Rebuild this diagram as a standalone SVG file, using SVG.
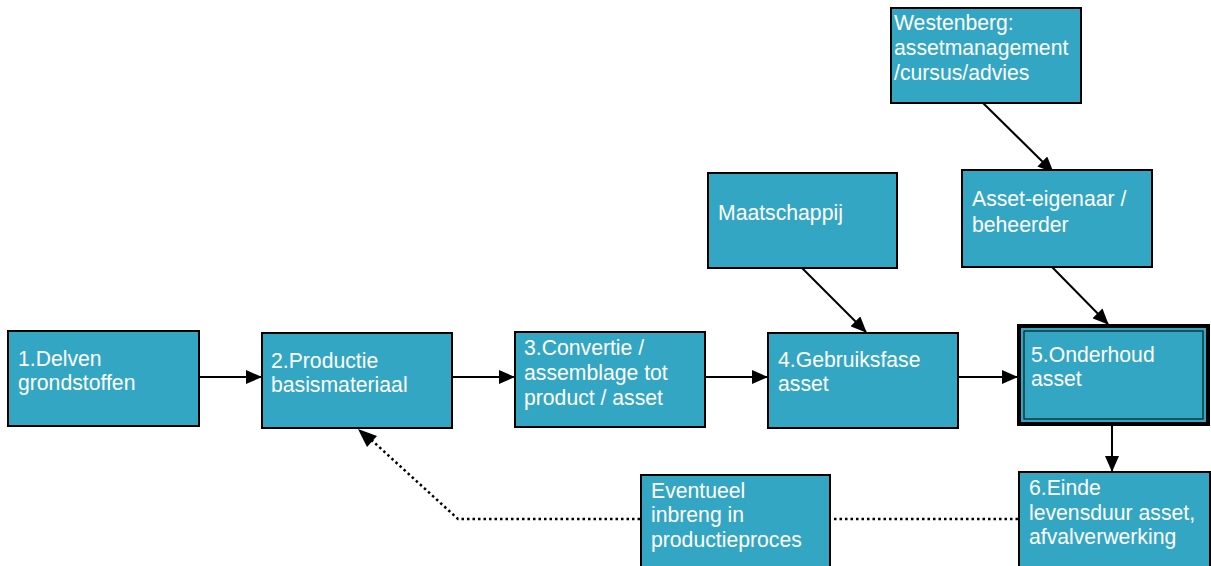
<svg xmlns="http://www.w3.org/2000/svg" width="1211" height="566" viewBox="0 0 1211 566">
<defs>
<marker id="ah" markerWidth="16" markerHeight="14" refX="15" refY="7" orient="auto" markerUnits="userSpaceOnUse">
<path d="M0,0 L16,7 L0,14 Z" fill="#000"/>
</marker>
<style>
.box{fill:#33A6C4;stroke:#000;stroke-width:2}
.t{font-family:"Liberation Sans",Arial,sans-serif;font-size:21.2px;fill:#fff}
.c{stroke:#000;stroke-width:2;fill:none}
.d{stroke:#000;stroke-width:2.5;fill:none;stroke-dasharray:2.5 3}
</style>
</defs>
<rect width="1211" height="566" fill="#fff"/>
<g id="connectors">
<line class="c" x1="199" y1="377" x2="261" y2="377" marker-end="url(#ah)"/>
<line class="c" x1="453" y1="377" x2="514" y2="377" marker-end="url(#ah)"/>
<line class="c" x1="706" y1="377" x2="767" y2="377" marker-end="url(#ah)"/>
<line class="c" x1="959" y1="377" x2="1017" y2="377" marker-end="url(#ah)"/>
<line class="c" x1="802" y1="268" x2="866" y2="332" marker-end="url(#ah)"/>
<line class="c" x1="1052" y1="267" x2="1108" y2="324" marker-end="url(#ah)"/>
<line class="c" x1="983" y1="103" x2="1053" y2="172" marker-end="url(#ah)"/>
<line class="c" x1="1112" y1="426" x2="1112" y2="471" marker-end="url(#ah)"/>
<line class="d" x1="1018" y1="519" x2="831" y2="519"/>
<polyline class="d" points="640,519 458,519 366,435"/>
<path d="M358,429 L377,436 L367,447 Z" fill="#000"/>
</g>
<g id="n1"><rect class="box" x="8" y="331" width="191" height="95"/><text class="t" x="18" y="366">1.Delven</text><text class="t" x="18" y="390">grondstoffen</text></g>
<g id="n2"><rect class="box" x="262" y="333" width="190" height="95"/><text class="t" x="271" y="368">2.Productie</text><text class="t" x="271" y="392">basismateriaal</text></g>
<g id="n3"><rect class="box" x="515" y="332" width="190" height="95"/><text class="t" x="524" y="355">3.Convertie /</text><text class="t" x="524" y="380">assemblage tot</text><text class="t" x="524" y="405">product / asset</text></g>
<g id="n4"><rect class="box" x="768" y="333" width="190" height="95"/><text class="t" x="778" y="367">4.Gebruiksfase</text><text class="t" x="778" y="391">asset</text></g>
<g id="n5"><rect x="1019" y="326" width="189" height="98" fill="#33A6C4" stroke="#000" stroke-width="4"/><rect x="1024" y="331" width="179" height="88" fill="none" stroke="#000" stroke-width="1"/><text class="t" x="1031" y="362">5.Onderhoud</text><text class="t" x="1031" y="386">asset</text></g>
<g id="n6"><rect class="box" x="1019" y="472" width="191" height="96"/><text class="t" x="1029" y="495">6.Einde</text><text class="t" x="1029" y="520">levensduur asset,</text><text class="t" x="1029" y="544">afvalverwerking</text></g>
<g id="n7"><rect class="box" x="641" y="475" width="189" height="93"/><text class="t" x="651" y="498">Eventueel</text><text class="t" x="651" y="522">inbreng in</text><text class="t" x="651" y="547">productieproces</text></g>
<g id="n8"><rect class="box" x="708" y="173" width="189" height="95"/><text class="t" x="718" y="220">Maatschappij</text></g>
<g id="n9"><rect class="box" x="962" y="170" width="190" height="97"/><text class="t" x="972" y="206">Asset-eigenaar /</text><text class="t" x="972" y="232">beheerder</text></g>
<g id="n10"><rect class="box" x="891" y="8" width="190" height="95"/><text class="t" x="894" y="30">Westenberg:</text><text class="t" x="894" y="55">assetmanagement</text><text class="t" x="894" y="80">/cursus/advies</text></g>
</svg>
